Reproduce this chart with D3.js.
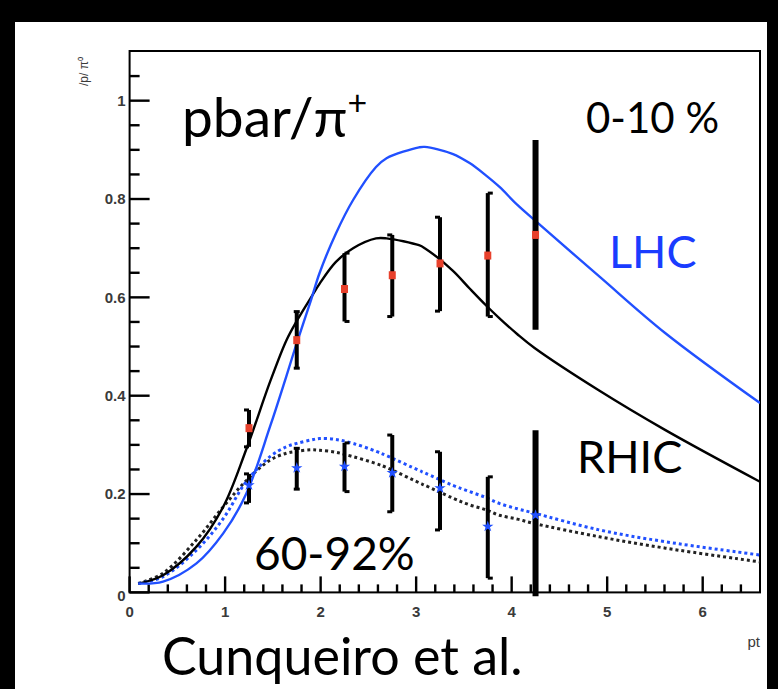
<!DOCTYPE html>
<html>
<head>
<meta charset="utf-8">
<script src="https://cdn.jsdelivr.net/npm/d3@7"></script>
<style>
  html, body { margin: 0; padding: 0; background: #000; }
  svg { display: block; }
</style>
</head>
<body>
<script>
// ---------- data ----------
const curvePt = [0.09, 0.35, 0.70, 0.98, 1.22, 1.47, 1.64, 1.75, 1.90, 1.99, 2.16, 2.34, 2.58, 2.69, 3.03, 3.09, 3.38, 3.56, 3.73, 3.87, 4.06, 4.24, 4.92, 5.61, 6.60];
const lhcCentral  = [0.018, 0.022, 0.059, 0.120, 0.200, 0.337, 0.439, 0.507, 0.595, 0.650, 0.730, 0.798, 0.865, 0.883, 0.905, 0.906, 0.892, 0.873, 0.848, 0.825, 0.788, 0.757, 0.642, 0.527, 0.385];
const rhicCentral = [0.018, 0.035, 0.093, 0.174, 0.290, 0.428, 0.512, 0.552, 0.600, 0.628, 0.672, 0.700, 0.720, 0.720, 0.706, 0.700, 0.655, 0.618, 0.584, 0.558, 0.525, 0.497, 0.410, 0.330, 0.225];
const lhcPeriph   = [0.018, 0.032, 0.086, 0.150, 0.225, 0.276, 0.296, 0.303, 0.310, 0.313, 0.311, 0.303, 0.287, 0.278, 0.248, 0.243, 0.218, 0.205, 0.193, 0.181, 0.170, 0.161, 0.127, 0.103, 0.076];
const rhicPeriph  = [0.018, 0.039, 0.107, 0.174, 0.227, 0.269, 0.283, 0.287, 0.290, 0.289, 0.285, 0.276, 0.262, 0.254, 0.223, 0.218, 0.192, 0.178, 0.168, 0.157, 0.149, 0.140, 0.113, 0.090, 0.062];

const dataPt = [1.25, 1.75, 2.25, 2.75, 3.25, 3.75, 4.25];
const centralVal = [0.334, 0.513, 0.617, 0.645, 0.669, 0.685, 0.727];
const centralLo  = [0.296, 0.456, 0.551, 0.561, 0.572, 0.561, 0.534];
const centralHi  = [0.371, 0.571, 0.690, 0.727, 0.763, 0.812, 0.920];
const periphVal  = [0.218, 0.253, 0.256, 0.243, 0.212, 0.134, 0.157];
const periphLo   = [0.182, 0.210, 0.205, 0.164, 0.127, 0.029, -0.008];
const periphHi   = [0.241, 0.293, 0.304, 0.320, 0.286, 0.235, 0.330];
const capSide    = [-1, 0, 1, -1, -1, 1, null];

const yMajor = [0, 0.2, 0.4, 0.6, 0.8, 1.0];
const yLabels = ["0", "0.2", "0.4", "0.6", "0.8", "1"];
const xMajor = [0, 1, 2, 3, 4, 5, 6];
const xLabels = ["0", "1", "2", "3", "4", "5", "6"];

// ---------- layout ----------
const W = 778, H = 689;
const svg = d3.select("body").append("svg").attr("width", W).attr("height", H);
svg.append("rect").attr("width", W).attr("height", H).attr("fill", "#000");
svg.append("rect").attr("x", 15).attr("y", 22).attr("width", 752).attr("height", H - 22).attr("fill", "#fff");

const x = d3.scaleLinear().domain([0, 6.6]).range([129.6, 760]);
const y = d3.scaleLinear().domain([0, 1.101]).range([592.4, 51]);
const X0 = x(0), X1 = x(6.6), Y0 = y(0), Y1 = y(1.101);

const defs = svg.append("defs");
defs.append("clipPath").attr("id", "plotclip").append("rect")
  .attr("x", X0).attr("y", Y1).attr("width", X1 - X0).attr("height", Y0 - Y1);

const tickFont = "'Liberation Sans Narrow','Liberation Sans',Arial,sans-serif";

// tick marks
const yMinor = d3.range(0, 1.1, 0.05).filter(v => !yMajor.some(m => Math.abs(m - v) < 1e-6));
const xMinor = d3.range(0, 6.6, 0.2).filter(v => !xMajor.some(m => Math.abs(m - v) < 1e-6));
const tickG = svg.append("g").attr("class", "ticks");
yMajor.forEach(v => tickG.append("rect").attr("x", X0).attr("y", y(v) - 1.2).attr("width", 20).attr("height", 2.4).attr("fill", "#000"));
yMinor.forEach(v => tickG.append("rect").attr("x", X0).attr("y", y(v) - 1.2).attr("width", 10).attr("height", 2.4).attr("fill", "#000"));
xMajor.forEach(v => tickG.append("rect").attr("x", x(v) - 1.2).attr("y", Y0 - 16).attr("width", 2.4).attr("height", 16).attr("fill", "#000"));
xMinor.forEach(v => tickG.append("rect").attr("x", x(v) - 1.2).attr("y", Y0 - 8).attr("width", 2.4).attr("height", 8).attr("fill", "#000"));

// tick labels
yMajor.forEach((v, i) => svg.append("text").attr("x", X0 - 4).attr("y", y(v) + (v === 0 ? 3 : 0))
  .attr("dy", "0.35em").attr("text-anchor", "end").attr("font-family", tickFont)
  .attr("font-weight", "bold").attr("font-size", 15).attr("fill", "#3a3a3a").text(yLabels[i]));
xMajor.forEach((v, i) => svg.append("text").attr("x", x(v)).attr("y", 617)
  .attr("text-anchor", "middle").attr("font-family", tickFont)
  .attr("font-weight", "bold").attr("font-size", 15).attr("fill", "#3a3a3a").text(xLabels[i]));

// frame
svg.append("rect").attr("x", X0).attr("y", Y1).attr("width", X1 - X0).attr("height", Y0 - Y1)
  .attr("fill", "none").attr("stroke", "#000").attr("stroke-width", 2);

// axis titles
svg.append("text").attr("x", X1).attr("y", 647).attr("text-anchor", "end")
  .attr("font-family", tickFont).attr("font-size", 15).attr("fill", "#3a3a3a").text("pt");
svg.append("text").attr("transform", "translate(88,57) rotate(-90)").attr("text-anchor", "end")
  .attr("font-family", tickFont).attr("font-size", 12).attr("fill", "#3a3a3a").text("/p/ π⁰");

// curves
const line = d3.line().x((d, i) => x(curvePt[i])).y(d => y(d)).curve(d3.curveCatmullRom.alpha(0.5));
const plot = svg.append("g").attr("clip-path", "url(#plotclip)");
const blue = "#2150ff";
plot.append("path").attr("d", line(rhicPeriph)).attr("fill", "none").attr("stroke", "#222")
  .attr("stroke-width", 3).attr("stroke-dasharray", "3,3");
plot.append("path").attr("d", line(lhcPeriph)).attr("fill", "none").attr("stroke", blue)
  .attr("stroke-width", 3).attr("stroke-dasharray", "3,3");
plot.append("path").attr("d", line(rhicCentral)).attr("fill", "none").attr("stroke", "#000")
  .attr("stroke-width", 2.4);
plot.append("path").attr("d", line(lhcCentral)).attr("fill", "none").attr("stroke", blue)
  .attr("stroke-width", 2.4);

// error bars
function bars(lo, hi) {
  dataPt.forEach((p, i) => {
    const cx = x(p), w = i === 6 ? 6 : 4;
    svg.append("line").attr("x1", cx).attr("x2", cx).attr("y1", y(lo[i])).attr("y2", y(hi[i]))
      .attr("stroke", "#000").attr("stroke-width", w);
    const side = capSide[i];
    if (side === null) return;
    [lo[i], hi[i]].forEach(v => {
      const a = side === 0 ? cx - 3 : (side < 0 ? cx - 5 : cx);
      const b = side === 0 ? cx + 3 : (side < 0 ? cx : cx + 5);
      svg.append("line").attr("x1", a).attr("x2", b).attr("y1", y(v)).attr("y2", y(v))
        .attr("stroke", "#000").attr("stroke-width", 3);
    });
  });
}
bars(centralLo, centralHi);
bars(periphLo, periphHi);

// markers
svg.selectAll(".red").data(centralVal).enter().append("rect")
  .attr("x", (d, i) => x(dataPt[i]) - 3.5).attr("y", d => y(d) - 4)
  .attr("width", 7).attr("height", 8).attr("fill", "#e8412c");
const star = d3.symbol().type(d3.symbolStar).size(40);
svg.selectAll(".star").data(periphVal).enter().append("path")
  .attr("d", star).attr("transform", (d, i) => `translate(${x(dataPt[i])},${y(d)})`)
  .attr("fill", blue);

// annotations
const ann = "Lato,'Open Sans',sans-serif";
const t1 = svg.append("text").attr("x", 182).attr("y", 137).attr("font-family", ann)
  .attr("font-size", 55).attr("fill", "#000");
t1.append("tspan").text("pbar/π");
t1.append("tspan").attr("font-size", 34).attr("dy", -22).text("+");
svg.append("text").attr("x", 586).attr("y", 133).attr("font-family", ann).attr("font-size", 42)
  .attr("fill", "#000").text("0-10 %");
svg.append("text").attr("x", 609).attr("y", 268).attr("font-family", ann).attr("font-size", 45)
  .attr("fill", "#1a3cff").text("LHC");
svg.append("text").attr("x", 577).attr("y", 473).attr("font-family", ann).attr("font-size", 45)
  .attr("fill", "#000").text("RHIC");
svg.append("text").attr("x", 254).attr("y", 570).attr("font-family", ann).attr("font-size", 46)
  .attr("fill", "#000").text("60-92%");
svg.append("text").attr("x", 162).attr("y", 675).attr("font-family", ann).attr("font-size", 52)
  .attr("fill", "#000").text("Cunqueiro et al.");
</script>
</body>
</html>
